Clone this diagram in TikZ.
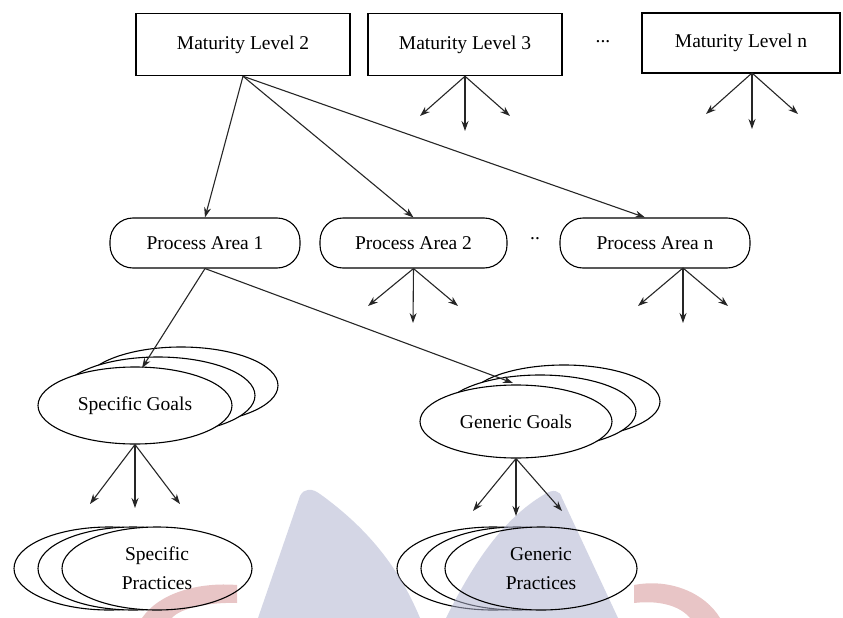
\documentclass[tikz,border=0pt]{standalone}
\usepackage{fontspec}
\setmainfont{Liberation Serif}
\usetikzlibrary{arrows.meta,shapes.geometric,calc}
\begin{document}
\begin{tikzpicture}[x=1pt,y=-1pt,
  lbl/.style={font=\fontsize{19.5}{21}\selectfont, text=black},
  mlbox/.style={draw, line width=1.5pt, minimum height=62pt, inner sep=0pt, lbl},
  pabox/.style={draw, line width=1.1pt, rounded corners=23pt, minimum width=190pt, minimum height=50pt, inner sep=0pt, lbl},
  ell/.style={draw, ellipse, line width=1.1pt, fill=white, inner sep=0pt, lbl},
  ello/.style={draw, ellipse, line width=1.1pt, inner sep=0pt},
  arr/.style={line width=1.1pt, draw=black!85, -{Stealth[length=10pt,width=7pt]}},
  wm/.style={fill opacity=0.55, draw=none}
]
\useasboundingbox (0,0) rectangle (843,618);

% Maturity levels
\node[mlbox, minimum width=214pt] (ml2) at (243,44.5) {Maturity Level 2};
\node[mlbox, minimum width=194pt] (ml3) at (465,44.5) {Maturity Level 3};
\node[lbl] (dots1) at (603,42) {...};
\node[mlbox, minimum width=198pt, minimum height=60pt] (mln) at (741,43) {Maturity Level n};

% Process areas
\node[pabox] (pa1) at (205,243) {Process Area 1};
\node[pabox, minimum width=187pt] (pa2) at (413.5,243) {Process Area 2};
\node[lbl] (dots2) at (535,239) {..};
\node[pabox] (pan) at (655,243) {Process Area n};

% ML2 -> PAs
\draw[arr] (ml2.south) -- (pa1.north);
\draw[arr] (ml2.south) -- (pa2.north);
\draw[arr] (ml2.south) -- ($(pan.north)+(-10,0)$);

% fan arrows
\coordinate (m3a) at (420,116); \coordinate (m3b) at (465,131); \coordinate (m3c) at (510,116);
\draw[arr] (ml3.south) -- (m3a); \draw[arr] (ml3.south) -- (m3b); \draw[arr] (ml3.south) -- (m3c);
\coordinate (mna) at (706,114); \coordinate (mnb) at (752,129); \coordinate (mnc) at (798,114);
\coordinate (mns) at (752,73);
\draw[arr] (mns) -- (mna); \draw[arr] (mns) -- (mnb); \draw[arr] (mns) -- (mnc);

\coordinate (p2a) at (368,306); \coordinate (p2b) at (413,323); \coordinate (p2c) at (458,306);
\draw[arr] (pa2.south) -- (p2a); \draw[arr] (pa2.south) -- (p2b); \draw[arr] (pa2.south) -- (p2c);
\coordinate (pns) at (683,268);
\coordinate (pna) at (638,306); \coordinate (pnb) at (683,323); \coordinate (pnc) at (728,306);
\draw[arr] (pns) -- (pna); \draw[arr] (pns) -- (pnb); \draw[arr] (pns) -- (pnc);

% Goals
\node[ell, minimum width=194pt, minimum height=77pt] (sg3) at (181,385.5) {};
\node[ell, minimum width=194pt, minimum height=77pt] (sg2) at (158,395.5) {};
\node[ell, minimum width=194pt, minimum height=77pt] (sg) at (135,405.5) {Specific Goals};

\node[ell, minimum width=192pt, minimum height=73pt] (gg3) at (564,401.5) {};
\node[ell, minimum width=192pt, minimum height=73pt] (gg2) at (540,411.5) {};
\node[ell, minimum width=192pt, minimum height=73pt] (gg) at (516,421.5) {Generic Goals};

\coordinate (sgin) at (142,368);
\coordinate (ggin) at (513,383);
\draw[arr] (pa1.south) -- (sgin);
\draw[arr] (pa1.south) -- (ggin);

% Practices (shapes)
\node[ell, minimum width=190pt, minimum height=83pt] (sp3) at (109,568.5) {};
\node[ell, minimum width=190pt, minimum height=83pt] (sp2) at (133,568.5) {};
\node[ell, draw=none, minimum width=190pt, minimum height=83pt] (sp) at (157,568.5) {};

\node[ell, minimum width=192pt, minimum height=83pt] (gp3) at (493,568.5) {};
\node[ell, minimum width=192pt, minimum height=83pt] (gp2) at (517,568.5) {};
\node[ell, draw=none, minimum width=192pt, minimum height=83pt] (gp) at (541,568.5) {};

% watermark
\fill[wm, fill={rgb,255:red,176;green,180;blue,208}]
  (258,618) -- (300,496) .. controls (304,488) and (312,488) .. (320,494)
  .. controls (370,530) and (400,570) .. (420,618) -- cycle;
\fill[wm, fill={rgb,255:red,176;green,180;blue,208}]
  (446,618) .. controls (470,570) and (500,520) .. (545,494)
  .. controls (553,489) and (560,490) .. (562,498) -- (618,618) -- cycle;
\fill[wm, fill={rgb,255:red,214;green,150;blue,152}]
  (142,618) .. controls (160,592) and (200,582) .. (237,585) -- (237,603)
  .. controls (210,602) and (180,608) .. (172,618) -- cycle;
\fill[wm, fill={rgb,255:red,214;green,150;blue,152}]
  (634,585) .. controls (670,578) and (705,593) .. (720,618) -- (690,618)
  .. controls (680,606) and (660,600) .. (634,603) -- cycle;

% outlines and labels over the watermark
\node[ello, minimum width=190pt, minimum height=83pt, lbl, align=center] (spt) at (sp) {Specific\\[8pt]Practices};
\node[ello, minimum width=192pt, minimum height=83pt, lbl, align=center] (gpt) at (gp) {Generic\\[8pt]Practices};

\coordinate (sga) at (90,504); \coordinate (sgb) at (135,508); \coordinate (sgc) at (180,504);
\draw[arr] (sg.south) -- (sga); \draw[arr] (sg.south) -- (sgb); \draw[arr] (sg.south) -- (sgc);
\coordinate (gga) at (473,511); \coordinate (ggb) at (516,516); \coordinate (ggc) at (562,511);
\draw[arr] (gg.south) -- (gga); \draw[arr] (gg.south) -- (ggb); \draw[arr] (gg.south) -- (ggc);
\end{tikzpicture}
\end{document}
